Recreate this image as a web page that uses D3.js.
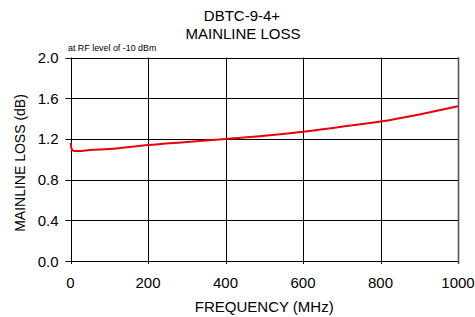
<!DOCTYPE html>
<html>
<head>
<meta charset="utf-8">
<script src="https://cdn.jsdelivr.net/npm/d3@7"></script>
<style>
  body { margin: 0; background: #fff; }
  text { font-family: "Liberation Sans", Arial, sans-serif; fill: #000; }
</style>
</head>
<body>
<svg id="chart" width="475" height="317"></svg>
<script>
// data
const freq = [0.5, 2, 5, 10, 20, 50, 100, 200, 300, 400, 500, 600, 700, 800, 900, 1000];
const loss = [1.16, 1.11, 1.09, 1.08, 1.08, 1.09, 1.10, 1.14, 1.17, 1.20, 1.23, 1.27, 1.32, 1.37, 1.44, 1.52];
const xTicks = [0, 200, 400, 600, 800, 1000];
const yTicks = [0.0, 0.4, 0.8, 1.2, 1.6, 2.0];

const width = 475, height = 317;
const margin = {top: 57.5, right: 17, bottom: 56, left: 70.5};

const svg = d3.select('#chart');

let x = d3.scaleLinear()
    .domain([0, 1000])
    .range([margin.left, width - margin.right]);

let y = d3.scaleLinear()
    .domain([0, 2])
    .range([height - margin.bottom, margin.top]);

// grid
svg.append('g')
    .selectAll('line')
    .data(xTicks)
    .join('line')
    .attr('x1', d => Math.round(x(d)) + 0.5).attr('x2', d => Math.round(x(d)) + 0.5)
    .attr('y1', y(2)).attr('y2', y(0) + 3)
    .attr('stroke', '#000').attr('stroke-width', 1);

svg.append('g')
    .selectAll('line')
    .data(yTicks)
    .join('line')
    .attr('x1', x(0) - 5).attr('x2', x(1000))
    .attr('y1', d => Math.round(y(d)) + 0.5).attr('y2', d => Math.round(y(d)) + 0.5)
    .attr('stroke', '#000').attr('stroke-width', 1);

// right border a bit heavier
svg.append('line')
    .attr('x1', Math.round(x(1000)) + 0.5).attr('x2', Math.round(x(1000)) + 0.5)
    .attr('y1', y(2)).attr('y2', y(0) + 3)
    .attr('stroke', '#555').attr('stroke-width', 1.6);

// tick labels
svg.append('g')
    .selectAll('text')
    .data(xTicks)
    .join('text')
    .attr('x', d => x(d))
    .attr('y', 288)
    .attr('text-anchor', 'middle')
    .style('font-size', '15px')
    .text(d => d);

svg.append('g')
    .selectAll('text')
    .data(yTicks)
    .join('text')
    .attr('x', 58.5)
    .attr('y', d => y(d) + 5.5)
    .attr('text-anchor', 'end')
    .style('font-size', '15px')
    .text(d => d.toFixed(1));

// the curve
let line = d3.line()
    .x((d, i) => x(freq[i]))
    .y(d => y(d))
    .curve(d3.curveMonotoneX);

svg.append('path')
    .datum(loss)
    .attr('d', line)
    .attr('fill', 'none')
    .attr('stroke', '#e8000b')
    .attr('stroke-width', 2);

// titles
svg.append('text').attr('x', 242).attr('y', 21).attr('text-anchor', 'middle')
    .style('font-size', '15px').text('DBTC-9-4+');
svg.append('text').attr('x', 243).attr('y', 39).attr('text-anchor', 'middle')
    .style('font-size', '15px').text('MAINLINE LOSS');
svg.append('text').attr('x', 68).attr('y', 51)
    .style('font-size', '8.9px').text('at RF level of -10 dBm');

svg.append('text').attr('x', x(500)).attr('y', 312).attr('text-anchor', 'middle')
    .style('font-size', '15px').text('FREQUENCY (MHz)');
svg.append('text')
    .attr('transform', 'translate(25,163) rotate(-90)')
    .attr('text-anchor', 'middle')
    .style('font-size', '14px').text('MAINLINE LOSS (dB)');
</script>
</body>
</html>
